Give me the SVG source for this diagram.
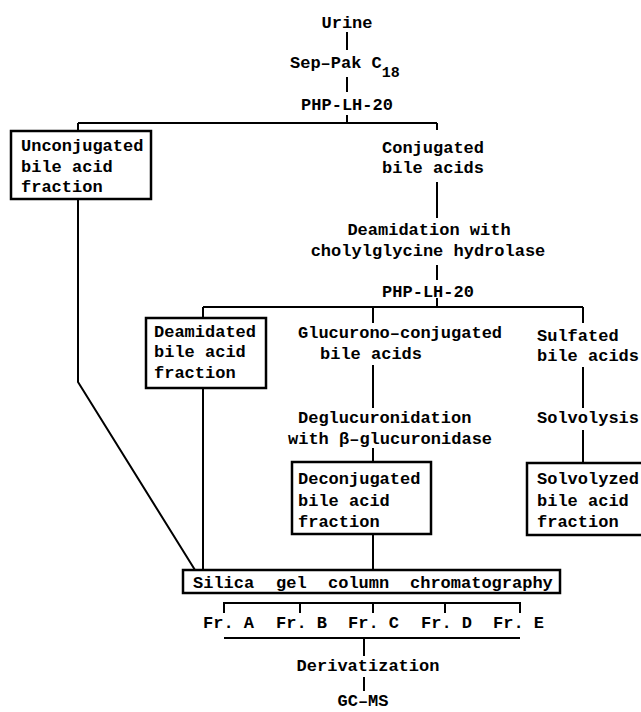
<svg xmlns="http://www.w3.org/2000/svg" width="641" height="712" viewBox="0 0 641 712">
<style>
text{font-family:"Liberation Mono","DejaVu Sans Mono",monospace;font-size:17px;font-weight:bold;fill:#000}
.sub{font-size:15px}
.box{fill:none;stroke:#000;stroke-width:2.5}
.ln{fill:none;stroke:#000;stroke-width:2}
.c{text-anchor:middle}
</style>
<rect width="641" height="712" fill="#fff"/>
<g id="connectors">
<path class="ln" d="M347 32V50M347 77V92M347 115V123M78 123H437M78 123V131M437 123V130M437 182V218M437 265V280M437 298V307M203 307H583M203 307V318M373 307V323M583 307V323M373 365V408M373 448V462M373 534V570M583 367V408M583 430V463M78 199V382L195 570M203 388V570M224 613V603H520V613M300 603V613M373 603V613M445 603V613M224 638H520M364 638V656M364 677V691"/>
</g>
<g id="urine"><text x="347" y="28" class="c">Urine</text></g>
<g id="seppak"><text x="290" y="68">Sep–Pak C<tspan class="sub" dy="9">18</tspan></text></g>
<g id="php1"><text x="347" y="110" class="c">PHP-LH-20</text></g>
<g id="unconjugated"><rect class="box" x="11" y="131" width="140" height="68"/><text x="21" y="151">Unconjugated</text><text x="21" y="172">bile acid</text><text x="21" y="192">fraction</text></g>
<g id="conjugated"><text x="382" y="153">Conjugated</text><text x="382" y="173">bile acids</text></g>
<g id="deamidation"><text x="429" y="235" class="c">Deamidation with</text><text x="428" y="256" class="c">cholylglycine hydrolase</text></g>
<g id="php2"><text x="428" y="297" class="c">PHP-LH-20</text></g>
<g id="deamidated"><rect class="box" x="146" y="318" width="120" height="70"/><text x="154" y="337">Deamidated</text><text x="154" y="357">bile acid</text><text x="154" y="378">fraction</text></g>
<g id="glucurono"><text x="298" y="338">Glucurono–conjugated</text><text x="320" y="359">bile acids</text></g>
<g id="sulfated"><text x="537" y="341">Sulfated</text><text x="537" y="361">bile acids</text></g>
<g id="deglucuronidation"><text x="298" y="423">Deglucuronidation</text><text x="288" y="444">with β–glucuronidase</text></g>
<g id="solvolysis"><text x="537" y="423">Solvolysis</text></g>
<g id="deconjugated"><rect class="box" x="292" y="462" width="139" height="72"/><text x="298" y="484">Deconjugated</text><text x="298" y="506">bile acid</text><text x="298" y="527">fraction</text></g>
<g id="solvolyzed"><rect class="box" x="527" y="463" width="125" height="72"/><text x="537" y="484">Solvolyzed</text><text x="537" y="506">bile acid</text><text x="537" y="527">fraction</text></g>
<g id="silica"><rect class="box" x="183" y="570" width="377" height="23"/><text x="193" y="588">Silica</text><text x="276" y="588">gel</text><text x="328" y="588">column</text><text x="410" y="588">chromatography</text></g>
<g id="fractions"><text x="203" y="628">Fr. A</text><text x="276" y="628">Fr. B</text><text x="348" y="628">Fr. C</text><text x="421" y="628">Fr. D</text><text x="493" y="628">Fr. E</text></g>
<g id="derivatization"><text x="368" y="671" class="c">Derivatization</text></g>
<g id="gcms"><text x="363" y="706" class="c">GC–MS</text></g>
</svg>
